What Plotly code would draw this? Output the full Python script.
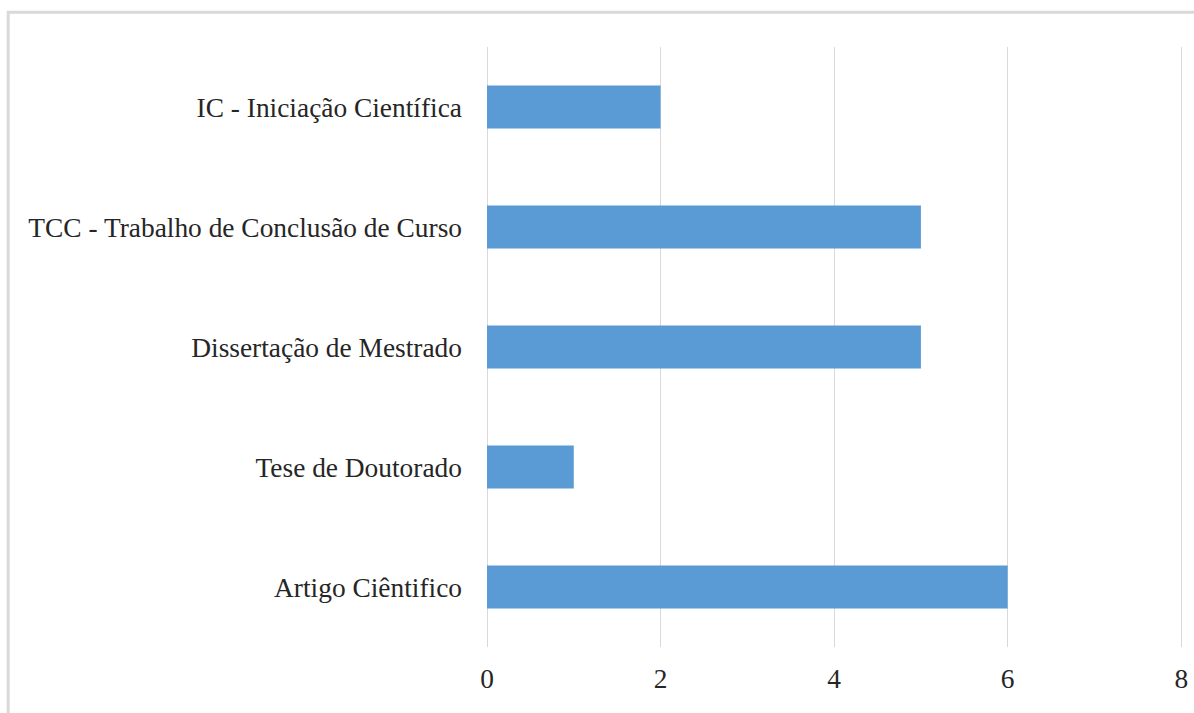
import plotly.graph_objects as go

# Tipos de trabalho acadêmico e quantidade encontrada
categorias = [
    "Artigo Ciêntifico",
    "Tese de Doutorado",
    "Dissertação de Mestrado",
    "TCC - Trabalho de Conclusão de Curso",
    "IC - Iniciação Científica",
]
quantidades = [6, 1, 5, 5, 2]
ticks_x = [0, 2, 4, 6, 8]

fig = go.Figure(
    go.Bar(
        x=quantidades,
        y=categorias,
        orientation="h",
        marker=dict(color="#5b9bd5", line=dict(width=0)),
        hoverinfo="x+y",
    )
)

fonte = dict(family="Liberation Serif, Times New Roman, serif", size=27.4, color="#262626")

fig.update_layout(
    width=1194,
    height=713,
    margin=dict(l=487, r=11, t=47, b=66, autoexpand=False),
    paper_bgcolor="white",
    plot_bgcolor="white",
    bargap=0.64,
    showlegend=False,
    font=fonte,
    xaxis=dict(
        range=[0, 8.02],
        tickvals=ticks_x,
        showgrid=True,
        gridcolor="#d9d9d9",
        gridwidth=1,
        zeroline=True,
        zerolinecolor="#d9d9d9",
        zerolinewidth=1,
        showline=False,
        ticks="",
        ticklabelstandoff=13,
        tickfont=fonte,
        automargin=False,
        fixedrange=True,
        layer="below traces",
    ),
    yaxis=dict(
        categoryorder="array",
        categoryarray=categorias,
        showgrid=False,
        zeroline=False,
        showline=False,
        ticks="",
        ticklabelstandoff=24,
        tickfont=fonte,
        automargin=False,
        fixedrange=True,
    ),
    shapes=[
        # moldura do gráfico
        dict(
            type="rect",
            xref="paper",
            yref="paper",
            x0=-0.688,
            x1=1.05,
            y0=-0.2,
            y1=1.0580,
            line=dict(color="#d9d9d9", width=3),
            fillcolor="rgba(0,0,0,0)",
            layer="below",
        )
    ],
)

fig.write_html("out.html")
